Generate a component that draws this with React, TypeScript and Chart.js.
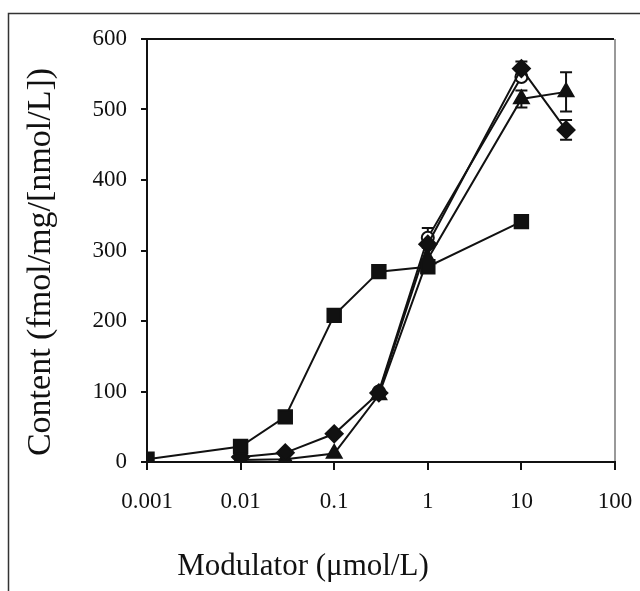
import React, { useEffect, useRef } from "react";
import { Chart, registerables } from "chart.js";

Chart.register(...registerables);

const xTicks = [0.001, 0.01, 0.1, 1, 10, 100];
const xTickLabels = ["0.001", "0.01", "0.1", "1", "10", "100"];
const yTicks = [0, 100, 200, 300, 400, 500, 600];
const xTitle = "Modulator (μmol/L)";
const yTitle = "Content (fmol/mg/[nmol/L])";

const squareX = [0.001, 0.01, 0.03, 0.1, 0.3, 1, 10];
const squareY = [4, 22, 64, 208, 270, 277, 341];

const diamondX = [0.01, 0.03, 0.1, 0.3, 1, 10, 30];
const diamondY = [7, 13, 40, 98, 309, 558, 471];
const diamondErr = [0, 0, 0, 0, 0, 10, 14];

const triangleX = [0.01, 0.03, 0.1, 0.3, 1, 10, 30];
const triangleY = [3, 4, 12, 95, 288, 515, 525];
const triangleErr = [0, 0, 0, 0, 0, 12, 28];

const circleX = [0.3, 1, 10];
const circleY = [100, 318, 546];
const circleErr = [0, 14, 0];

const FONT = "'Liberation Serif', 'Times New Roman', serif";

function pts(xs: number[], ys: number[]) {
  return xs.map((x, i) => ({ x, y: ys[i] }));
}

const frame = {
  id: "frame",
  beforeDraw(chart: any) {
    const ctx = chart.ctx;
    ctx.save();
    ctx.fillStyle = "#fff";
    ctx.fillRect(0, 0, chart.width, chart.height);
    ctx.strokeStyle = "#333";
    ctx.lineWidth = 1.5;
    ctx.beginPath();
    ctx.moveTo(8.5, chart.height);
    ctx.lineTo(8.5, 13.5);
    ctx.lineTo(chart.width, 13.5);
    ctx.stroke();
    const a = chart.chartArea;
    ctx.strokeStyle = "#111";
    ctx.lineWidth = 2;
    ctx.beginPath();
    ctx.moveTo(a.left, a.top);
    ctx.lineTo(a.right - 1, a.top);
    ctx.stroke();
    ctx.strokeStyle = "#777";
    ctx.lineWidth = 1.5;
    ctx.beginPath();
    ctx.moveTo(a.right, a.top);
    ctx.lineTo(a.right, a.bottom);
    ctx.stroke();
    ctx.restore();
  },
  afterDraw(chart: any) {
    const ctx = chart.ctx;
    ctx.save();
    ctx.fillStyle = "#111";
    ctx.textAlign = "center";
    ctx.textBaseline = "middle";
    ctx.font = `31px ${FONT}`;
    ctx.fillText(xTitle, 303, 567);
    ctx.translate(41, 262);
    ctx.rotate(-Math.PI / 2);
    ctx.font = `34px ${FONT}`;
    ctx.fillText(yTitle, 0, 0);
    ctx.restore();
  },
};

const errorBars = {
  id: "errorBars",
  beforeDatasetsDraw(chart: any) {
    const ctx = chart.ctx;
    const xs = chart.scales.x;
    const ys = chart.scales.y;
    ctx.save();
    ctx.strokeStyle = "#111";
    ctx.lineWidth = 2;
    chart.data.datasets.forEach((ds: any) => {
      if (!ds.err) return;
      ds.data.forEach((p: any, i: number) => {
        const e = ds.err[i];
        if (!e) return;
        const px = xs.getPixelForValue(p.x);
        const y1 = ys.getPixelForValue(p.y - e);
        const y2 = ys.getPixelForValue(p.y + e);
        ctx.beginPath();
        ctx.moveTo(px, y1);
        ctx.lineTo(px, y2);
        ctx.moveTo(px - 6, y1);
        ctx.lineTo(px + 6, y1);
        ctx.moveTo(px - 6, y2);
        ctx.lineTo(px + 6, y2);
        ctx.stroke();
      });
    });
    ctx.restore();
  },
};

export default function App() {
  const ref = useRef<HTMLCanvasElement>(null);
  useEffect(() => {
    if (!ref.current) return;
    const base = {
      borderColor: "#111",
      backgroundColor: "#111",
      pointBorderColor: "#111",
      borderWidth: 2,
      showLine: true,
    };
    const chart = new Chart(ref.current, {
      type: "scatter",
      data: {
        datasets: [
          { ...base, label: "square", data: pts(squareX, squareY), pointStyle: "rect", pointRadius: 9.5, pointBackgroundColor: "#111" },
          { ...base, label: "diamond", data: pts(diamondX, diamondY), err: diamondErr, pointStyle: "rectRot", pointRadius: 8.5, pointBackgroundColor: "#111" },
          { ...base, label: "circle", data: pts(circleX, circleY), err: circleErr, pointStyle: "circle", pointRadius: 6, pointBackgroundColor: "#fff", pointBorderWidth: 2 },
          { ...base, label: "triangle", data: pts(triangleX, triangleY), err: triangleErr, pointStyle: "triangle", pointRadius: 8.5, pointBackgroundColor: "#111" },
        ] as any,
      },
      options: {
        animation: false,
        responsive: false,
        devicePixelRatio: 1,
        layout: { padding: { top: 39, right: 25, left: 0, bottom: 0 } },
        plugins: { legend: { display: false }, tooltip: { enabled: false } },
        scales: {
          x: {
            type: "logarithmic",
            min: 0.001,
            max: 100,
            afterBuildTicks: (s: any) => {
              s.ticks = xTicks.map((v) => ({ value: v }));
            },
            afterFit: (s: any) => {
              s.height = 129;
              s.paddingLeft = 0;
              s.paddingRight = 0;
            },
            ticks: {
              autoSkip: false,
              maxRotation: 0,
              color: "#111",
              padding: 18,
              font: { family: FONT, size: 23 },
              callback: (v: any) => {
                const i = xTicks.indexOf(Number(v));
                return i >= 0 ? xTickLabels[i] : "";
              },
            },
            grid: { drawOnChartArea: false, color: "#111", lineWidth: 2, tickLength: 8 },
            border: { color: "#111", width: 2 },
            title: { display: false },
          },
          y: {
            min: 0,
            max: 600,
            afterBuildTicks: (s: any) => {
              s.ticks = yTicks.map((v) => ({ value: v }));
            },
            afterFit: (s: any) => {
              s.width = 147;
              s.paddingTop = 0;
              s.paddingBottom = 0;
            },
            ticks: {
              color: "#111",
              padding: 14,
              font: { family: FONT, size: 23 },
            },
            grid: { drawOnChartArea: false, color: "#111", lineWidth: 2, tickLength: 6 },
            border: { color: "#111", width: 2 },
            title: { display: false },
          },
        },
      },
      plugins: [frame, errorBars],
    } as any);
    return () => chart.destroy();
  }, []);
  return (
    <div style={{ position: "fixed", left: 0, top: 0, width: 640, height: 591 }}>
      <canvas ref={ref} width={640} height={591} style={{ display: "block" }} />
    </div>
  );
}
